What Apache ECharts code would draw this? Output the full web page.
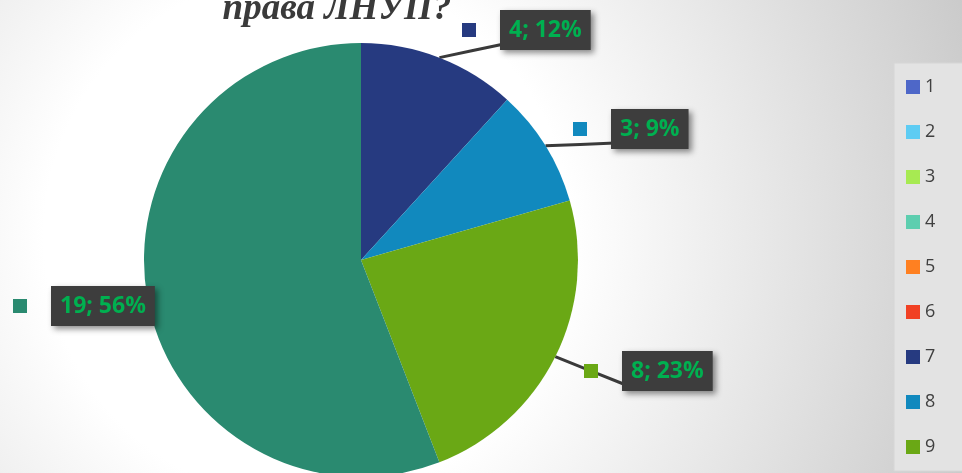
<!DOCTYPE html>
<html>
<head>
<meta charset="utf-8">
<script src="https://cdn.jsdelivr.net/npm/echarts@6/dist/echarts.min.js"></script>
<style>
  html, body { margin: 0; padding: 0; }
  #chart { width: 962px; height: 473px; }
</style>
</head>
<body>
<div id="chart"></div>
<script>
  const categories = ['1', '2', '3', '4', '5', '6', '7', '8', '9', '10']
  const counts = [0, 0, 0, 0, 0, 0, 4, 3, 8, 19]
  const colors = ['#4e67c8', '#5eccf3', '#a7ea52', '#5dceaf', '#ff8021', '#f14124',
    '#263a80', '#1189be', '#6aa815', '#2a8a70']
  const titleText = 'права ЛНУП?'

  // where the callout boxes sit (left edge of the key square, vertical middle)
  const labelSpots = {
    6: [462, 30],
    7: [573, 129],
    8: [584, 371],
    9: [13, 306]
  }

  const pieData = categories.map(function (name, i) {
    const item = {
      name: name,
      value: counts[i],
      itemStyle: { color: colors[i] }
    }
    if (!counts[i]) {
      item.label = { show: false }
      item.labelLine = { show: false }
    } else {
      item.label = {
        rich: {
          sq: { width: 14, height: 14, backgroundColor: colors[i] },
          g: { width: 24 },
          box: {
            color: '#00b050',
            fontFamily: 'Open Sans',
            fontWeight: 'bold',
            fontSize: 23,
            lineHeight: 26,
            padding: [9, 9, 8, 9],
            backgroundColor: '#3d3d3d',
            shadowColor: 'rgba(0,0,0,0.45)',
            shadowBlur: 6,
            shadowOffsetX: 3,
            shadowOffsetY: 3
          }
        }
      }
    }
    return item
  })

  const chart = echarts.init(document.getElementById('chart'))
  chart.setOption({
    animation: false,
    backgroundColor: {
      type: 'radial',
      x: 0.32,
      y: 0.5,
      r: 1.55,
      colorStops: [
        { offset: 0, color: '#ffffff' },
        { offset: 0.36, color: '#ffffff' },
        { offset: 1, color: '#c6c6c6' }
      ]
    },
    graphic: [
      {
        type: 'text',
        x: 337,
        y: 28,
        style: {
          text: titleText,
          font: 'italic bold 37px "Liberation Serif"',
          fill: '#3a3a3a',
          textAlign: 'center',
          textVerticalAlign: 'bottom'
        }
      }
    ],
    legend: {
      orient: 'vertical',
      left: 894,
      top: 63,
      padding: [15, 20, 15, 12],
      backgroundColor: '#e3e3e3',
      borderColor: '#d6d6d6',
      borderWidth: 1,
      icon: 'rect',
      itemWidth: 14,
      itemHeight: 14,
      itemGap: 27,
      textStyle: {
        color: '#404040',
        fontFamily: 'Open Sans',
        fontSize: 18
      },
      data: categories
    },
    series: [
      {
        type: 'pie',
        center: [361, 260],
        radius: 217,
        startAngle: 90,
        clockwise: true,
        percentPrecision: 0,
        avoidLabelOverlap: false,
        data: pieData,
        label: {
          show: true,
          position: 'outside',
          formatter: function (p) {
            return '{sq|}{g|}{box|' + p.value + '; ' + p.percent + '%}'
          }
        },
        labelLine: {
          show: true,
          length: 10,
          length2: 10,
          lineStyle: { color: '#3a3a3a', width: 3 }
        },
        labelLayout: function (params) {
          const spot = labelSpots[params.dataIndex]
          if (!spot) return {}
          const out = { x: spot[0], y: spot[1], align: 'left', verticalAlign: 'middle' }
          const pts = params.labelLinePoints
          if (pts && pts.length) {
            // straight callout from the slice edge to the box's lower left corner
            const end = [spot[0] + 42, spot[1] + 14]
            const start = pts[0]
            out.labelLinePoints = [start, [(start[0] + end[0]) / 2, (start[1] + end[1]) / 2], end]
          }
          return out
        },
        emphasis: { disabled: true }
      }
    ]
  })
</script>
</body>
</html>
